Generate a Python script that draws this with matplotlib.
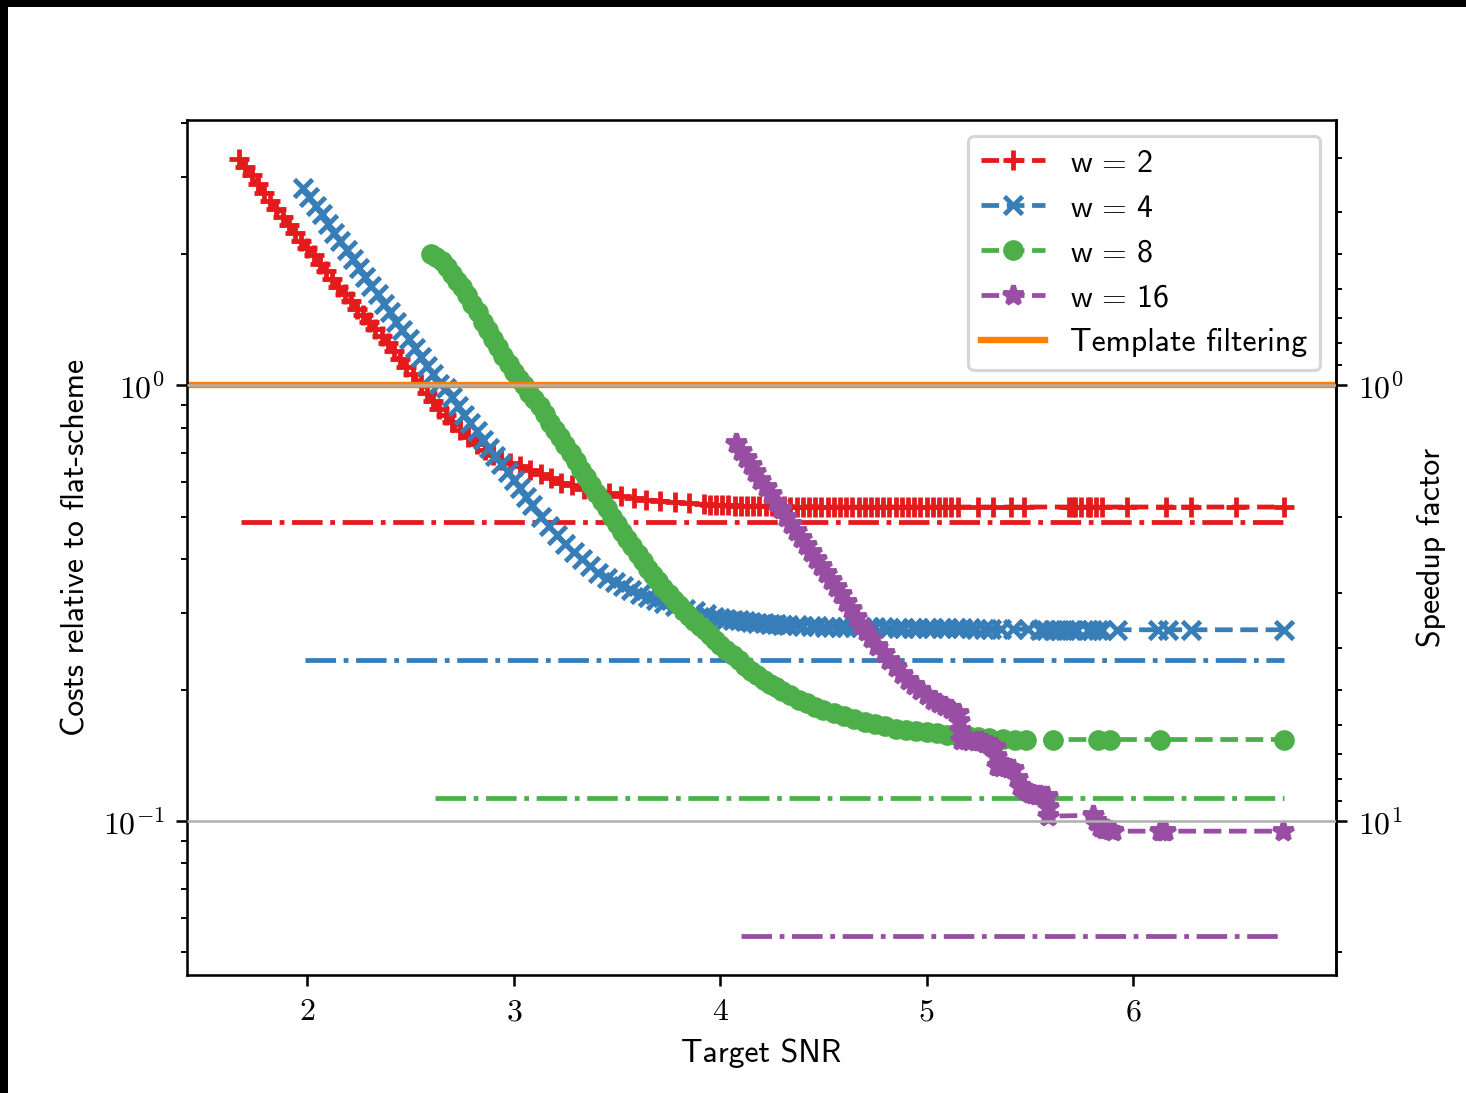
import numpy as np
import matplotlib
matplotlib.use("Agg")
import matplotlib.pyplot as plt
from matplotlib.patches import Rectangle
from matplotlib.ticker import FuncFormatter, NullFormatter

# --- data ---
snr_w2 = [1.67, 1.70, 1.73, 1.76, 1.79, 1.82, 1.85, 1.88, 1.91, 1.94, 1.97, 2.00, 2.03, 2.06,
          2.09, 2.12, 2.15, 2.18, 2.21, 2.24, 2.27, 2.30, 2.33, 2.36, 2.39, 2.42, 2.45, 2.48,
          2.51, 2.55, 2.58, 2.61, 2.64, 2.67, 2.70, 2.74, 2.78, 2.82, 2.86, 2.90, 2.94, 2.98,
          3.03, 3.08, 3.13, 3.18, 3.23, 3.28, 3.34, 3.40, 3.46, 3.52, 3.58, 3.64, 3.71, 3.78,
          3.85, 3.92, 3.95, 3.98, 4.01, 4.04, 4.07, 4.10, 4.13, 4.16, 4.19, 4.22, 4.25, 4.28,
          4.31, 4.34, 4.37, 4.40, 4.43, 4.46, 4.49, 4.52, 4.55, 4.58, 4.61, 4.64, 4.67, 4.70,
          4.73, 4.76, 4.79, 4.82, 4.85, 4.88, 4.91, 4.94, 4.97, 5.00, 5.03, 5.06, 5.09, 5.12,
          5.15, 5.25, 5.32, 5.41, 5.47, 5.69, 5.71, 5.72, 5.75, 5.78, 5.79, 5.82, 5.85, 5.97,
          6.16, 6.28, 6.50, 6.73]
cost_w2 = [3.31, 3.17, 3.04, 2.90, 2.77, 2.65, 2.54, 2.43, 2.33, 2.24, 2.15, 2.07, 1.99, 1.90,
           1.83, 1.75, 1.68, 1.62, 1.56, 1.50, 1.45, 1.40, 1.35, 1.30, 1.25, 1.20, 1.15, 1.10,
           1.06, 1.00, 0.96, 0.92, 0.885, 0.855, 0.825, 0.79, 0.76, 0.735, 0.712, 0.693, 0.676, 0.664,
           0.652, 0.640, 0.627, 0.612, 0.598, 0.590, 0.580, 0.572, 0.565, 0.557, 0.552, 0.547, 0.543, 0.539,
           0.536, 0.534, 0.533, 0.532, 0.531, 0.531, 0.530, 0.530, 0.529, 0.529, 0.529, 0.528, 0.528, 0.528,
           0.528, 0.527, 0.527, 0.527, 0.527, 0.527, 0.526, 0.526, 0.526, 0.526, 0.526, 0.526, 0.526, 0.526,
           0.526, 0.526, 0.526, 0.526, 0.526, 0.526, 0.526, 0.526, 0.526, 0.526, 0.526, 0.526, 0.526, 0.526,
           0.526, 0.526, 0.526, 0.526, 0.526, 0.526, 0.526, 0.526, 0.526, 0.526, 0.526, 0.526, 0.526, 0.526,
           0.526, 0.526, 0.526, 0.526]

snr_w4 = [1.98, 2.01, 2.04, 2.07, 2.10, 2.13, 2.16, 2.19, 2.22, 2.25, 2.28, 2.31, 2.34, 2.37,
          2.40, 2.43, 2.46, 2.49, 2.52, 2.55, 2.58, 2.61, 2.64, 2.67, 2.70, 2.73, 2.76, 2.79,
          2.82, 2.85, 2.88, 2.91, 2.94, 2.97, 3.00, 3.03, 3.06, 3.09, 3.13, 3.17, 3.21, 3.25,
          3.29, 3.33, 3.37, 3.41, 3.45, 3.49, 3.53, 3.57, 3.61, 3.65, 3.69, 3.73, 3.78, 3.83,
          3.88, 3.93, 3.97, 4.00, 4.03, 4.06, 4.09, 4.12, 4.15, 4.18, 4.21, 4.24, 4.27, 4.30,
          4.33, 4.37, 4.40, 4.44, 4.47, 4.51, 4.54, 4.58, 4.61, 4.65, 4.68, 4.72, 4.75, 4.79,
          4.82, 4.86, 4.89, 4.93, 4.96, 5.00, 5.03, 5.07, 5.10, 5.14, 5.17, 5.21, 5.24, 5.28,
          5.31, 5.36, 5.42, 5.49, 5.55, 5.58, 5.61, 5.64, 5.67, 5.70, 5.73, 5.78, 5.80, 5.83,
          5.85, 5.92, 6.12, 6.17, 6.28, 6.73]
cost_w4 = [2.84, 2.71, 2.58, 2.47, 2.35, 2.24, 2.14, 2.04, 1.95, 1.86, 1.77, 1.69, 1.62, 1.54,
           1.47, 1.40, 1.34, 1.28, 1.22, 1.16, 1.11, 1.06, 1.01, 0.985, 0.94, 0.895, 0.855, 0.82,
           0.785, 0.75, 0.72, 0.69, 0.661, 0.634, 0.607, 0.581, 0.555, 0.531, 0.500, 0.477, 0.454, 0.433,
           0.415, 0.400, 0.385, 0.371, 0.362, 0.354, 0.347, 0.340, 0.333, 0.327, 0.322, 0.317, 0.312, 0.307,
           0.303, 0.2985, 0.2945, 0.2930, 0.2917, 0.2903, 0.289, 0.2877, 0.2864, 0.2854, 0.2845, 0.2838, 0.2831, 0.2824,
           0.2818, 0.2813, 0.2809, 0.2805, 0.2801, 0.2797, 0.2794, 0.2792, 0.2791, 0.2789, 0.2788, 0.2787, 0.2786, 0.2784,
           0.2783, 0.2782, 0.278, 0.2779, 0.2778, 0.2777, 0.2776, 0.2775, 0.2773, 0.2772, 0.277, 0.2769, 0.2768, 0.2766,
           0.2765, 0.276, 0.276, 0.2755, 0.275, 0.275, 0.275, 0.275, 0.275, 0.275, 0.275, 0.275, 0.275, 0.275,
           0.275, 0.275, 0.275, 0.275, 0.275, 0.275]

snr_w8 = [2.60, 2.625, 2.65, 2.675, 2.70, 2.725, 2.75, 2.775, 2.80, 2.825, 2.85, 2.875, 2.90, 2.925,
          2.95, 2.975, 3.00, 3.025, 3.05, 3.075, 3.10, 3.125, 3.15, 3.175, 3.20, 3.225, 3.25, 3.275,
          3.30, 3.325, 3.35, 3.375, 3.40, 3.425, 3.45, 3.475, 3.50, 3.525, 3.55, 3.575, 3.60, 3.625,
          3.65, 3.675, 3.70, 3.725, 3.75, 3.775, 3.80, 3.825, 3.85, 3.875, 3.90, 3.925, 3.95, 3.975,
          4.00, 4.03, 4.06, 4.09, 4.12, 4.15, 4.18, 4.21, 4.24, 4.27, 4.30, 4.34, 4.38, 4.42,
          4.46, 4.50, 4.55, 4.60, 4.65, 4.70, 4.75, 4.80, 4.85, 4.90, 4.95, 5.00, 5.05, 5.10,
          5.15, 5.20, 5.25, 5.30, 5.37, 5.43, 5.48, 5.61, 5.83, 5.89, 6.13, 6.73]
cost_w8 = [2.00, 1.97, 1.93, 1.87, 1.80, 1.74, 1.68, 1.61, 1.54, 1.47, 1.40, 1.34, 1.28, 1.225,
           1.17, 1.12, 1.075, 1.035, 1.00, 0.96, 0.93, 0.895, 0.86, 0.82, 0.79, 0.76, 0.73, 0.70,
           0.67, 0.64, 0.615, 0.59, 0.565, 0.543, 0.522, 0.50, 0.48, 0.462, 0.445, 0.427, 0.41, 0.395,
           0.38, 0.367, 0.355, 0.343, 0.332, 0.322, 0.313, 0.304, 0.296, 0.288, 0.281, 0.274, 0.267, 0.26,
           0.254, 0.247, 0.241, 0.234, 0.227, 0.221, 0.216, 0.211, 0.207, 0.203, 0.199, 0.195, 0.19, 0.187,
           0.183, 0.180, 0.177, 0.174, 0.172, 0.169, 0.167, 0.165, 0.163, 0.162, 0.161, 0.160, 0.159, 0.158,
           0.157, 0.1565, 0.156, 0.155, 0.1545, 0.154, 0.154, 0.154, 0.154, 0.154, 0.154, 0.154]

snr_w16 = [4.075, 4.10, 4.125, 4.147, 4.17, 4.195, 4.221, 4.245, 4.27, 4.293, 4.318, 4.342, 4.366, 4.39,
           4.415, 4.439, 4.463, 4.487, 4.511, 4.535, 4.56, 4.583, 4.608, 4.632, 4.656, 4.68, 4.705, 4.729,
           4.76, 4.791, 4.82, 4.85, 4.88, 4.908, 4.94, 4.97, 5.00, 5.033, 5.06, 5.091, 5.12, 5.15,
           5.155, 5.16, 5.164, 5.19, 5.212, 5.24, 5.261, 5.285, 5.309, 5.333, 5.338, 5.343, 5.36, 5.382,
           5.40, 5.42, 5.437, 5.454, 5.47, 5.488, 5.50, 5.517, 5.535, 5.551, 5.57, 5.585, 5.588, 5.59,
           5.808, 5.82, 5.841, 5.86, 5.875, 5.89, 5.904, 6.132, 6.145, 6.156, 6.727]
cost_w16 = [0.737, 0.708, 0.681, 0.656, 0.633, 0.608, 0.584, 0.562, 0.540, 0.520, 0.500, 0.481, 0.463, 0.446,
            0.430, 0.415, 0.400, 0.385, 0.371, 0.357, 0.344, 0.332, 0.319, 0.307, 0.294, 0.2824, 0.273, 0.2637,
            0.253, 0.2435, 0.235, 0.2263, 0.218, 0.2113, 0.205, 0.2004, 0.195, 0.1902, 0.187, 0.1842, 0.181, 0.1776,
            0.170, 0.162, 0.154, 0.1536, 0.1532, 0.1528, 0.1524, 0.1512, 0.1500, 0.1484, 0.141, 0.1336, 0.1332, 0.1329,
            0.1322, 0.1315, 0.1255, 0.1202, 0.1186, 0.1171, 0.1162, 0.1153, 0.115, 0.1147, 0.1144, 0.1141, 0.108, 0.1027,
            0.1032, 0.100, 0.0969, 0.0962, 0.0959, 0.0953, 0.0949, 0.0949, 0.0949, 0.0949, 0.0949]

# lower bounds (dash-dot) per window size
bound_start = [1.68, 1.99, 2.62, 4.10]
bound_end = 6.73
bound_cost = [0.487, 0.235, 0.1133, 0.0545]
template_cost = 1.0

labels = [r"w$\,=\,$2", r"w$\,=\,$4", r"w$\,=\,$8", r"w$\,=\,$16"]
colors = ["#e41a1c", "#377eb8", "#4daf4a", "#984ea3"]
markers = ["+", "x", "o", "*"]
msizes = [6, 5.5, 5, 6.5]

plt.rcParams["font.family"] = "cmss10"
plt.rcParams["mathtext.fontset"] = "cm"
plt.rcParams["axes.unicode_minus"] = False
plt.rcParams["font.size"] = 10

W, H, DPI = 1466, 1093, 229
fig = plt.figure(figsize=(W / DPI, H / DPI), dpi=DPI)
fig.patch.set_facecolor("black")
fig.add_artist(Rectangle((8 / W, 0), 1, 1 - 7 / H, transform=fig.transFigure,
                         facecolor="white", edgecolor="none", zorder=-10))

ax = fig.add_axes([187 / W, 1 - 975 / H, (1336 - 187) / W, (975 - 120) / H])

series = [(snr_w2, cost_w2), (snr_w4, cost_w4), (snr_w8, cost_w8), (snr_w16, cost_w16)]
for i, (snr, cost) in enumerate(series):
    ax.plot(snr, cost, "--", color=colors[i], lw=1.5, marker=markers[i],
            ms=msizes[i], mew=1.5, label=labels[i])
    ax.plot([bound_start[i], bound_end], [bound_cost[i], bound_cost[i]], "-.",
            color=colors[i], lw=1.5)

ax.axhline(template_cost, color="#ff7f00", lw=2, label="Template filtering")

ax.set_yscale("log")
ax.yaxis.grid(True, which="major", color="#b0b0b0", lw=0.8)
ax.set_axisbelow(False)

ax.xaxis.set_major_formatter(FuncFormatter(lambda v, p: r"$%d$" % round(v)))
ax.yaxis.set_major_formatter(FuncFormatter(lambda v, p: r"$10^{%d}$" % round(np.log10(v))))
ax.yaxis.set_minor_formatter(NullFormatter())

ax.set_xlabel("Target SNR")
ax.set_ylabel("Costs relative to flat-scheme")

sec = ax.secondary_yaxis("right", functions=(lambda v: 1 / v, lambda v: 1 / v))
sec.set_yticks([1, 10])
sec.yaxis.set_major_formatter(FuncFormatter(lambda v, p: r"$10^{%d}$" % round(np.log10(v))))
sec.yaxis.set_minor_formatter(NullFormatter())
sec.set_ylabel("Speedup factor")

ax.legend(loc="upper right")

fig.savefig("out.png", dpi=DPI, facecolor=fig.get_facecolor())
